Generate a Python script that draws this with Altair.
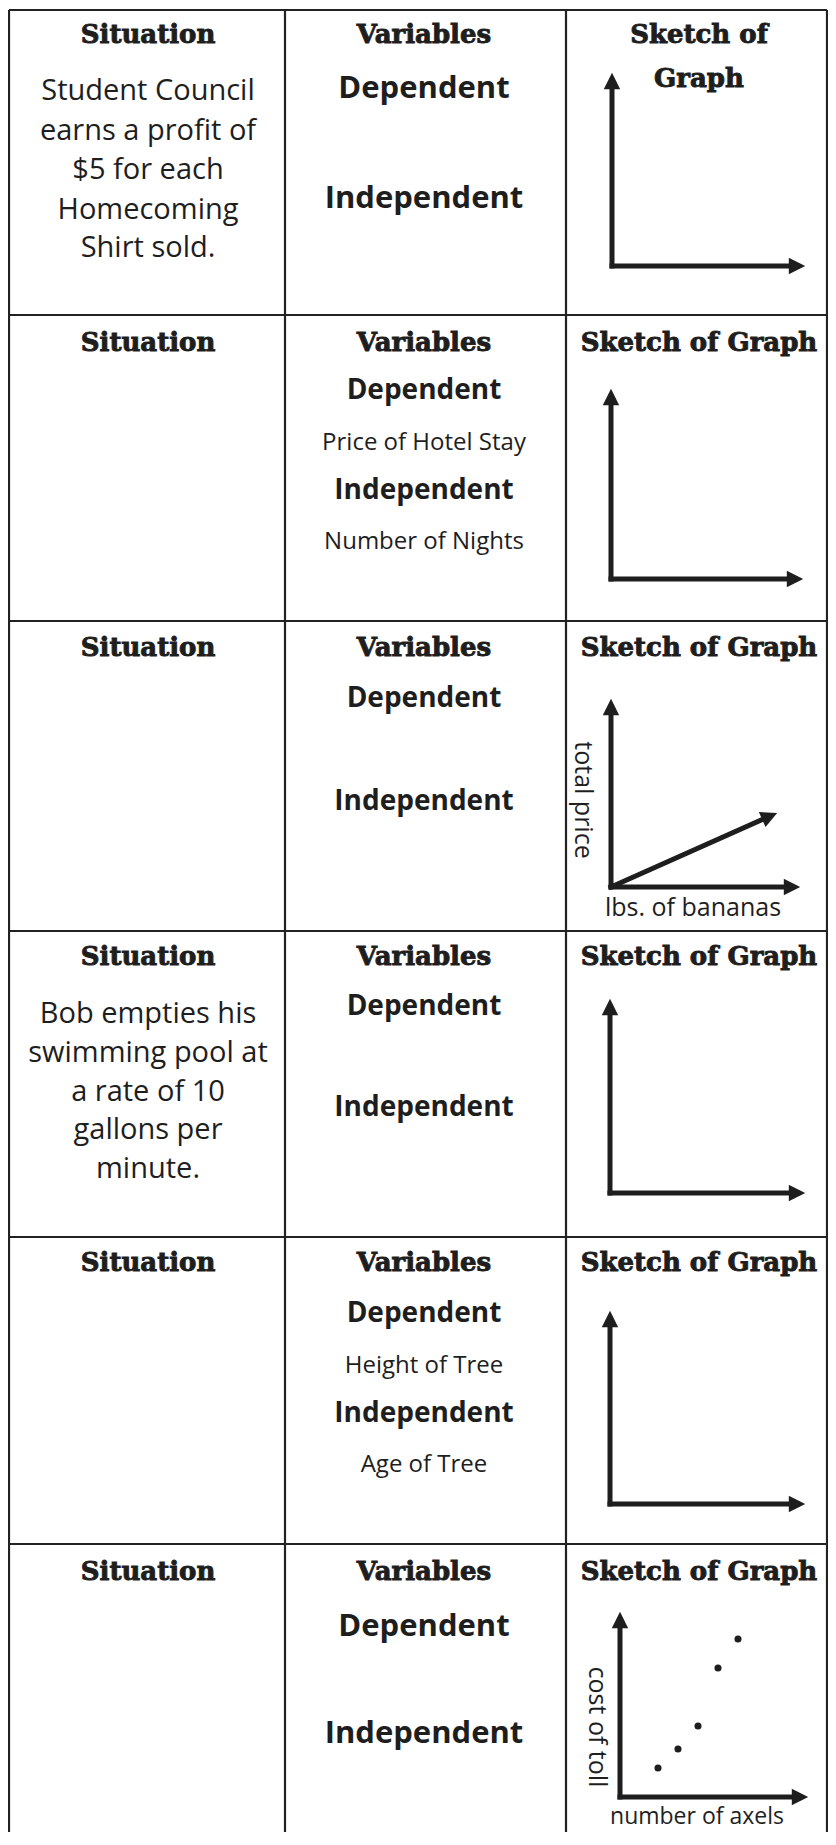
import math
import altair as alt
import pandas as pd

# ---------------- content ----------------
header_labels = ["Situation", "Variables", "Sketch of Graph"]
situation_texts = [
    ["Student Council", "earns a profit of", "$5 for each", "Homecoming", "Shirt sold."],
    [],
    [],
    ["Bob empties his", "swimming pool at", "a rate of 10", "gallons per", "minute."],
    [],
    [],
]
dependent_answers = ["", "Price of Hotel Stay", "", "", "Height of Tree", ""]
independent_answers = ["", "Number of Nights", "", "", "Age of Tree", ""]
y_axis_labels = ["", "", "total price", "", "", "cost of toll"]
x_axis_labels = ["", "", "lbs. of bananas", "", "", "number of axels"]

# scatter sketch of the toll (sketch units)
toll_axels = [1.9, 2.9, 3.9, 4.9, 5.9]
toll_cost = [1.45, 2.4, 3.55, 6.45, 7.9]
# straight-line sketch of the banana price (direction of the arrow, sketch units)
banana_run, banana_rise = 8.3, 3.7

# ---------------- layout (page pixels) ----------------
col_edges = [9, 285, 566, 827]
row_edges = [10, 315, 621, 931, 1237, 1544]
table_bottom = 1832
col_centers = [148, 424, 699]
header_y = [35, 343, 648, 957, 1263, 1572]
situation_y = {0: [91, 131, 170, 210, 248], 3: [1014, 1053, 1092, 1130, 1169]}
dep_y = [89, 391, 699, 1007, 1314, 1627]
indep_y = [199, 491, 802, 1108, 1414, 1734]
ans_dep_y = [None, 443, None, None, 1366, None]
ans_indep_y = [None, 542, None, None, 1465, None]
var_size = [31, 28, 28, 28, 28, 31]
# sketch axes: origin x, origin y, y-arrow tip, x-arrow tip
sketch_axes = [
    (612, 266, 73, 805),
    (611, 579, 389, 803),
    (611, 887, 699, 800),
    (610, 1193, 999, 805),
    (610, 1504, 1311, 805),
    (620, 1797, 1612, 808),
]
sketch_unit = 20
ylab_pos = [None, None, (583, 800), None, None, (597, 1727)]
xlab_pos = [None, None, (693, 908), None, None, (697, 1817)]
xlab_size = [25, 25, 25, 25, 25, 23]

INK = "#1e1e1e"
HEAD = 8  # half length of arrow head

# ---------------- build tables ----------------
grid = []
for ye in row_edges:
    grid.append(dict(x=col_edges[0], y=ye, x2=col_edges[-1], y2=ye))
for xe in col_edges:
    grid.append(dict(x=xe, y=row_edges[0], x2=xe, y2=table_bottom))
grid = pd.DataFrame(grid)

headers = []
for r in range(6):
    for c, lab in enumerate(header_labels):
        if r == 0 and c == 2:
            headers.append(dict(text="Sketch of", x=col_centers[2], y=header_y[0]))
            headers.append(dict(text="Graph", x=col_centers[2], y=header_y[0] + 44))
        else:
            headers.append(dict(text=lab, x=col_centers[c], y=header_y[r]))
headers = pd.DataFrame(headers)

regular = []
bold = []
for r in range(6):
    for line, yy in zip(situation_texts[r], situation_y.get(r, [])):
        regular.append(dict(text=line, x=col_centers[0], y=yy, size=29, angle=0))
    bold.append(dict(text="Dependent", x=col_centers[1], y=dep_y[r], size=var_size[r]))
    bold.append(dict(text="Independent", x=col_centers[1], y=indep_y[r], size=var_size[r]))
    if dependent_answers[r]:
        regular.append(dict(text=dependent_answers[r], x=col_centers[1], y=ans_dep_y[r], size=24, angle=0))
    if independent_answers[r]:
        regular.append(dict(text=independent_answers[r], x=col_centers[1], y=ans_indep_y[r], size=24, angle=0))
    if y_axis_labels[r]:
        px, py = ylab_pos[r]
        regular.append(dict(text=y_axis_labels[r], x=px, y=py, size=25, angle=90))
    if x_axis_labels[r]:
        px, py = xlab_pos[r]
        regular.append(dict(text=x_axis_labels[r], x=px, y=py, size=xlab_size[r], angle=0))
regular = pd.DataFrame(regular)
bold = pd.DataFrame(bold)

shafts = []
heads = []
for r, (ox, oy, ytip, xtip) in enumerate(sketch_axes):
    shafts.append(dict(x=ox, y=oy, x2=ox, y2=ytip + HEAD))
    heads.append(dict(x=ox, y=ytip + HEAD, angle=0))
    shafts.append(dict(x=ox, y=oy, x2=xtip - HEAD, y2=oy))
    heads.append(dict(x=xtip - HEAD, y=oy, angle=90))
# banana line arrow
ox, oy, _, _ = sketch_axes[2]
tx, ty = ox + banana_run * sketch_unit, oy - banana_rise * sketch_unit
L = math.hypot(tx - ox, ty - oy)
ux, uy = (tx - ox) / L, (ty - oy) / L
hx, hy = tx - HEAD * ux, ty - HEAD * uy
shafts.append(dict(x=ox, y=oy, x2=hx, y2=hy))
heads.append(dict(x=hx, y=hy, angle=math.degrees(math.atan2(ux, -uy))))
shafts = pd.DataFrame(shafts)
heads = pd.DataFrame(heads)

ox, oy, _, _ = sketch_axes[5]
toll = pd.DataFrame({
    "x": [ox + a * sketch_unit for a in toll_axels],
    "y": [oy - c * sketch_unit for c in toll_cost],
})

# ---------------- chart ----------------
W, H = 820, 1824
xs = alt.Scale(domain=[8, 828], nice=False, zero=False)
ys = alt.Scale(domain=[8, 1832], reverse=True, nice=False, zero=False)
X = alt.X("x:Q", scale=xs, axis=None)
Y = alt.Y("y:Q", scale=ys, axis=None)

grid_layer = alt.Chart(grid).mark_rule(color="#222222", strokeWidth=2.2).encode(
    x=X, y=Y, x2="x2:Q", y2="y2:Q")

shaft_layer = alt.Chart(shafts).mark_rule(color=INK, strokeWidth=5, strokeCap="square").encode(
    x=X, y=Y, x2="x2:Q", y2="y2:Q")

head_layer = alt.Chart(heads).mark_point(
    shape="M0,-1L1,1L-1,1Z", filled=True, color=INK, opacity=1, size=270, strokeWidth=0
).encode(x=X, y=Y, angle=alt.Angle("angle:Q", scale=None))

toll_layer = alt.Chart(toll).mark_circle(color=INK, opacity=1, size=50).encode(x=X, y=Y)

header_layer = alt.Chart(headers).mark_text(
    font="DejaVu Serif", fontWeight="bold", fontSize=26, color=INK, align="center",
    baseline="middle", stroke=INK, strokeWidth=0.9
).encode(x=X, y=Y, text="text:N")

regular_layer = alt.Chart(regular).mark_text(
    font="Open Sans", color=INK, align="center", baseline="middle"
).encode(x=X, y=Y, text="text:N", size=alt.Size("size:Q", scale=None),
         angle=alt.Angle("angle:Q", scale=None))

bold_layer = alt.Chart(bold).mark_text(
    font="Open Sans", fontWeight="bold", color=INK, align="center", baseline="middle"
).encode(x=X, y=Y, text="text:N", size=alt.Size("size:Q", scale=None))

chart = alt.layer(
    grid_layer, shaft_layer, head_layer, toll_layer, header_layer, regular_layer, bold_layer
).properties(
    width=W, height=H, padding=0, autosize=alt.AutoSizeParams(type="none"), background="white"
).configure_view(stroke=None)

chart.save("out.html", embed_options={"renderer": "svg", "actions": False})
